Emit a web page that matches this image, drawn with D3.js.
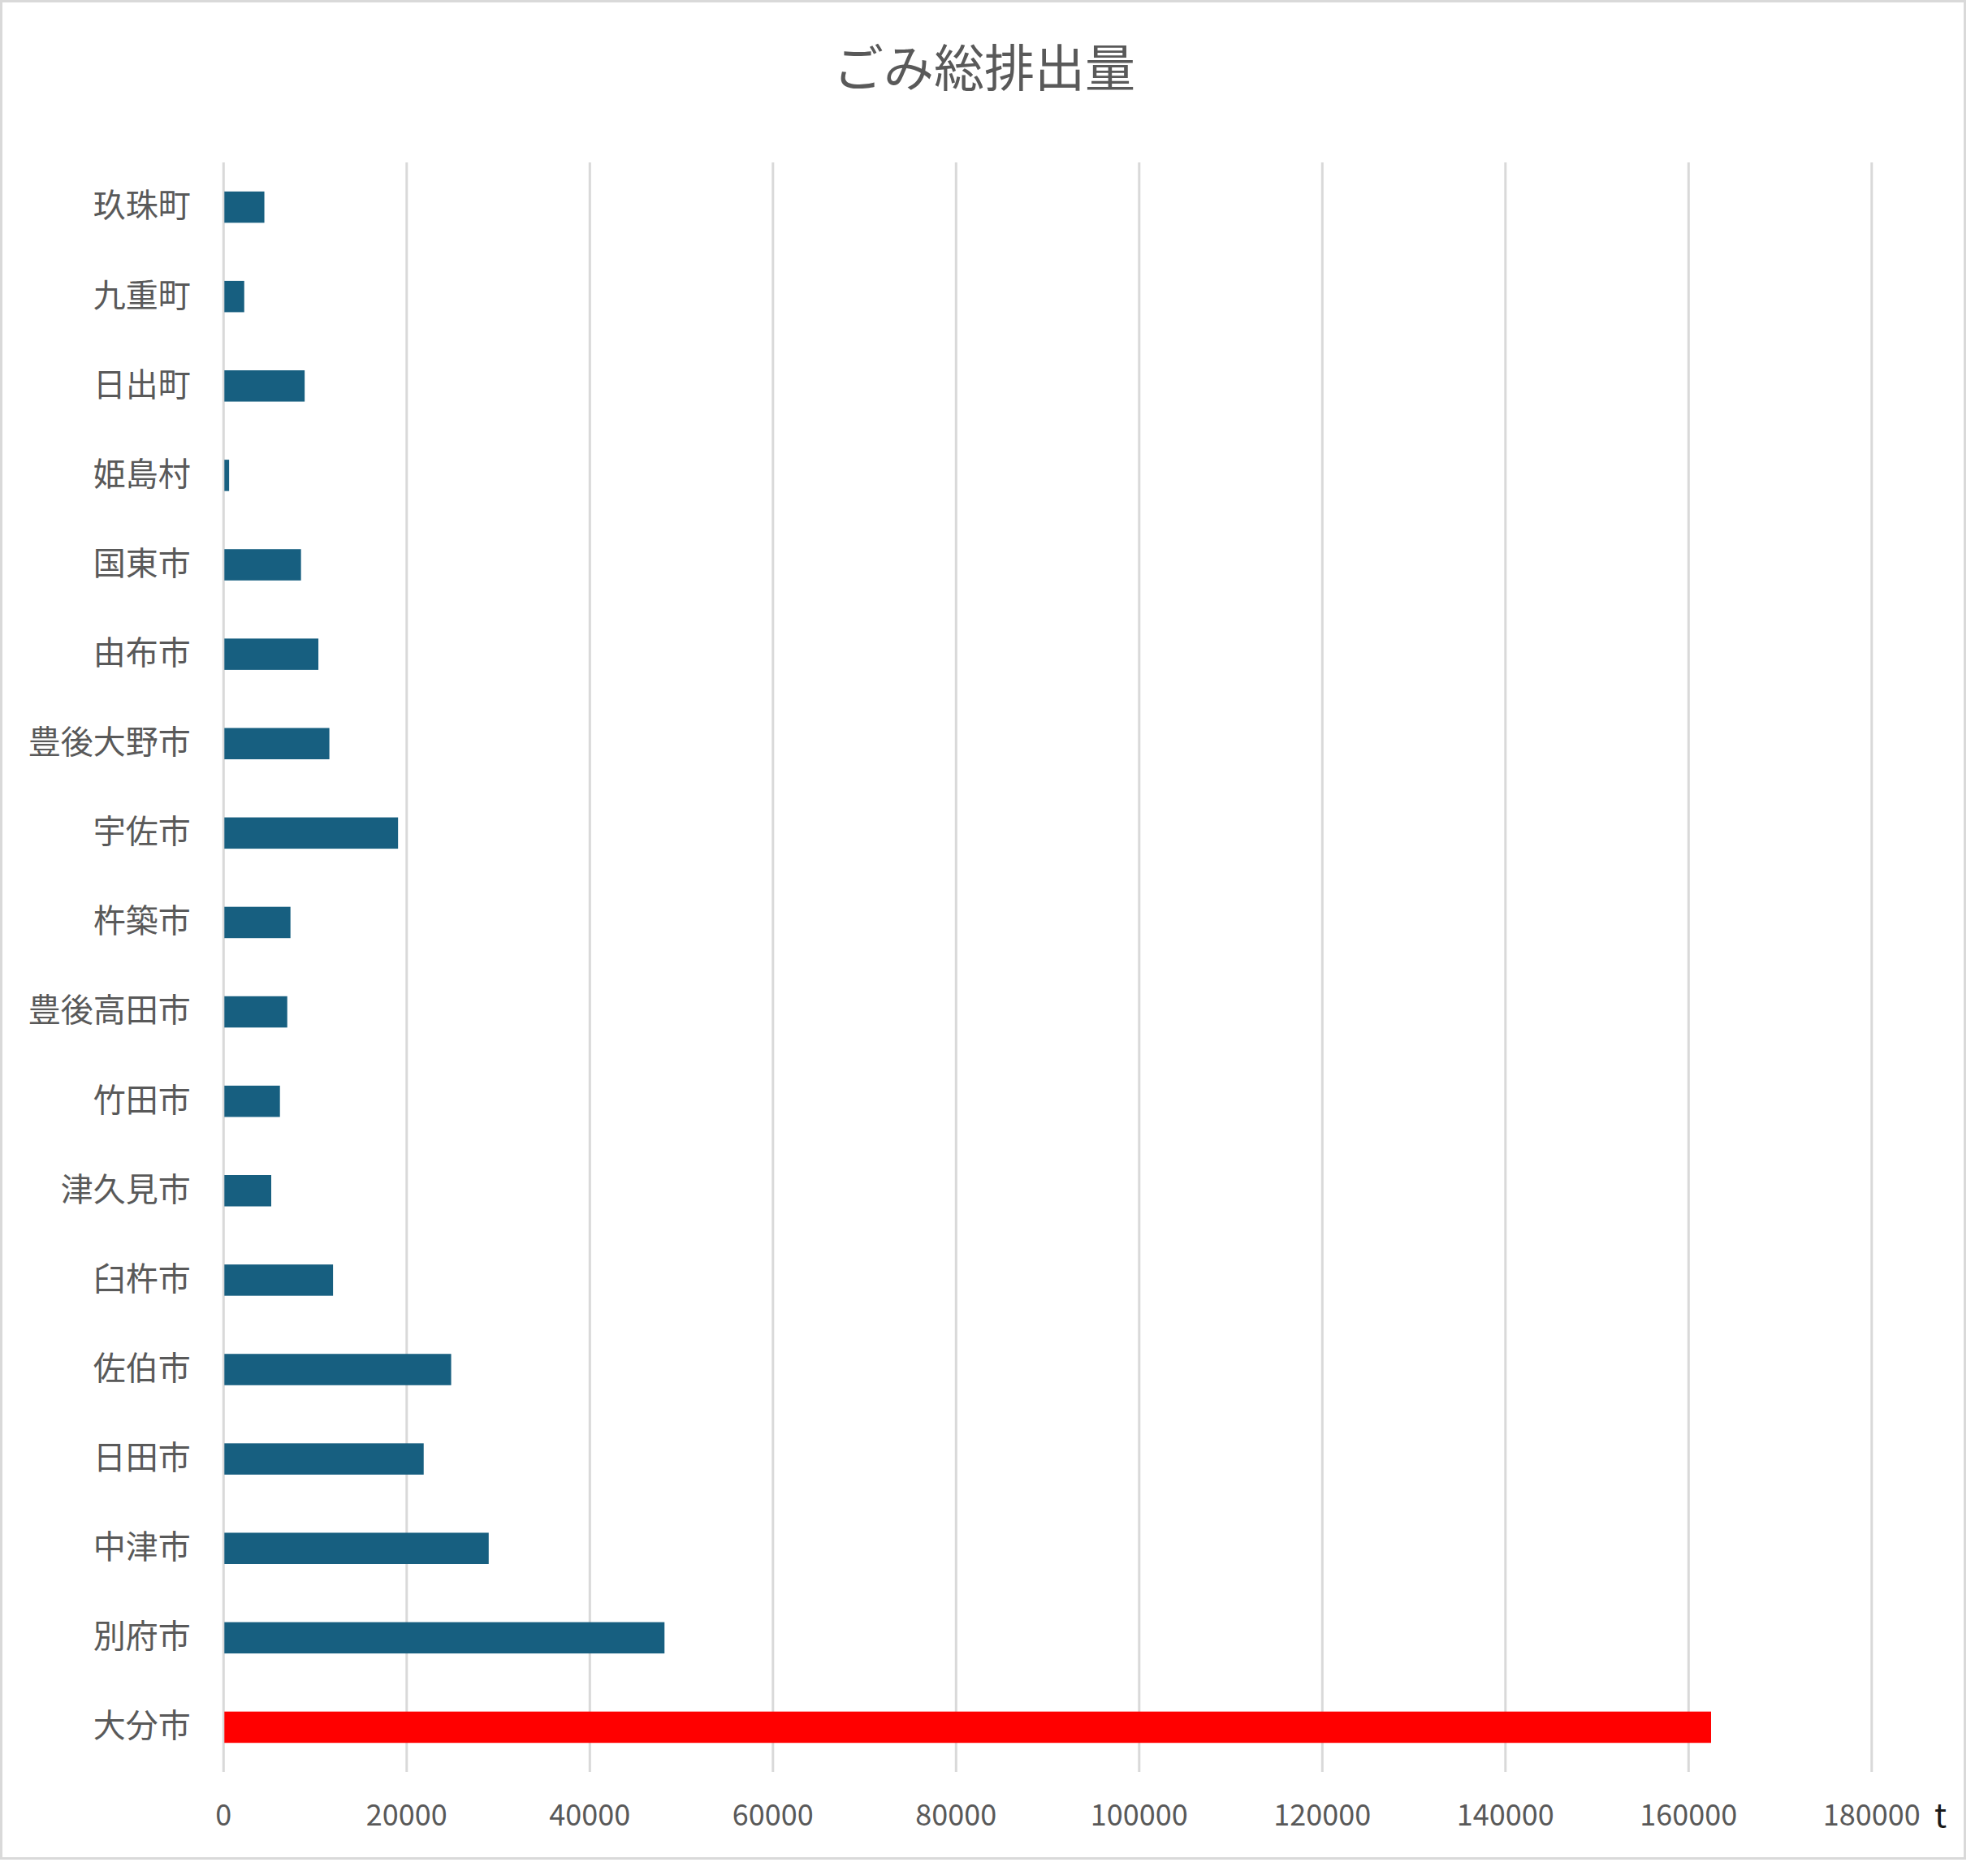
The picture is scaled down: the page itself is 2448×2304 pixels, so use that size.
<!DOCTYPE html>
<html>
<head>
<meta charset="utf-8">
<script src="https://cdn.jsdelivr.net/npm/d3@7"></script>
<style>
  html, body { margin: 0; padding: 0; background: #ffffff; }
  svg { display: block; }
  text { font-family: "Noto Sans CJK JP", "Noto Sans", sans-serif; }
</style>
</head>
<body>
<script>
// ---- Data (bottom-to-top order as in the source chart) ----
const categories = ["大分市","別府市","中津市","日田市","佐伯市","臼杵市","津久見市","竹田市","豊後高田市","杵築市","宇佐市","豊後大野市","由布市","国東市","姫島村","日出町","九重町","玖珠町"];
const values = [162500, 48200, 29000, 21900, 24900, 12000, 5250, 6200, 7000, 7350, 19100, 11600, 10400, 8500, 650, 8900, 2300, 4500];
const highlighted = ["大分市"];
const xTicks = [0, 20000, 40000, 60000, 80000, 100000, 120000, 140000, 160000, 180000];
const title = "ごみ総排出量";
const unitLabel = "t";

const data = categories.map((c, i) => ({ name: c, value: values[i] }));

const W = 2448, H = 2304;
const svg = d3.select("body").append("svg").attr("width", W).attr("height", H);
svg.append("rect").attr("width", W).attr("height", H).attr("fill", "#ffffff");

// chart border
svg.append("rect").attr("x", 1.5).attr("y", 1.5).attr("width", 2418).attr("height", 2287)
  .attr("fill", "#ffffff").attr("stroke", "#d9d9d9").attr("stroke-width", 3);

const plot = { left: 274.8, right: 2304.3, top: 200, bottom: 2182 };

const x = d3.scaleLinear().domain([0, 180000]).range([plot.left, plot.right]);
const y = d3.scaleBand()
  .domain(categories.slice().reverse())
  .range([plot.top, plot.bottom])
  .paddingInner(0.65).paddingOuter(0.325);

// gridlines + x tick labels
const xAxis = svg.append("g")
  .attr("transform", `translate(0,${plot.bottom})`)
  .call(d3.axisBottom(x).tickValues(xTicks).tickFormat(d3.format("d"))
    .tickSize(-(plot.bottom - plot.top)).tickPadding(40));
xAxis.select(".domain").remove();
xAxis.selectAll(".tick line").attr("stroke", "#d9d9d9").attr("stroke-width", 3);
xAxis.selectAll(".tick text").attr("fill", "#595959").attr("font-size", 36);

// bars
svg.append("g").selectAll("rect").data(data).join("rect")
  .attr("x", x(0) + 1.5)
  .attr("y", d => y(d.name))
  .attr("width", d => x(d.value) - x(0) - 1.5)
  .attr("height", y.bandwidth())
  .attr("fill", d => highlighted.includes(d.name) ? "#ff0000" : "#175f80");

// y labels
const yAxis = svg.append("g")
  .attr("transform", `translate(${plot.left},0)`)
  .call(d3.axisLeft(y).tickSize(0).tickPadding(40));
yAxis.select(".domain").remove();
yAxis.selectAll(".tick text").attr("fill", "#595959").attr("font-size", 40).attr("dy", "0.31em");

// title
svg.append("text").attr("x", 1212).attr("y", 107).attr("text-anchor", "middle")
  .attr("font-size", 62).attr("fill", "#595959").text(title);

// unit label
svg.append("text").attr("x", 2382).attr("y", 2250)
  .attr("font-size", 40).attr("fill", "#1a1a1a").text(unitLabel);
</script>
</body>
</html>
